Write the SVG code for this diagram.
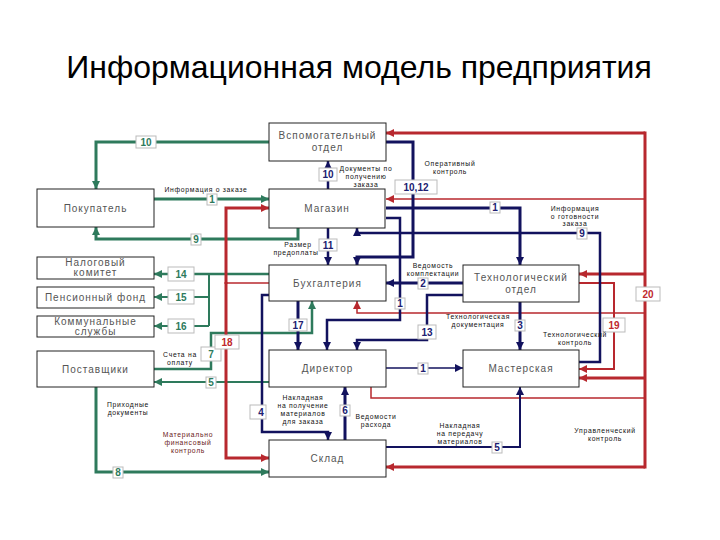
<svg xmlns="http://www.w3.org/2000/svg" width="720" height="540" viewBox="0 0 720 540">
<style>
.title{font-family:"Liberation Sans",Arial,sans-serif;font-size:32px;fill:#000}
.box rect{fill:#fff;stroke:#222;stroke-width:1}
.box text{font-family:"Liberation Sans",Arial,sans-serif;font-size:10px;letter-spacing:1px;fill:#555;text-anchor:middle}
.g{stroke:#2e7a5c;fill:none}
.r{stroke:#b8282e;fill:none}
.n{stroke:#12125e;fill:none}
.lb rect{fill:#fff;stroke:#bbb;stroke-width:1}
.lb text{font-family:"Liberation Sans",Arial,sans-serif;font-size:10px;font-weight:bold;text-anchor:middle}
.lg text{fill:#2e7a5c}.lr text{fill:#c0282d}.ln text{fill:#202070}
.t{font-family:"Liberation Sans",Arial,sans-serif;font-size:6.8px;letter-spacing:0.7px;fill:#111;text-anchor:middle}
.tr{fill:#6a1a1a}
</style>
<defs>
<marker id="ag" markerUnits="userSpaceOnUse" markerWidth="9" markerHeight="9" refX="8" refY="4" orient="auto"><path d="M0,0 L8,4 L0,8 z" fill="#2e7a5c"/></marker>
<marker id="ar" markerUnits="userSpaceOnUse" markerWidth="9" markerHeight="9" refX="8" refY="4" orient="auto"><path d="M0,0 L8,4 L0,8 z" fill="#b8282e"/></marker>
<marker id="an" markerUnits="userSpaceOnUse" markerWidth="9" markerHeight="9" refX="8" refY="4" orient="auto"><path d="M0,0 L8,4 L0,8 z" fill="#12125e"/></marker>
</defs>
<rect width="720" height="540" fill="#fff"/>
<text class="title" x="359" y="78" text-anchor="middle">Информационная модель предприятия</text>

<g id="connectors">
<!-- green -->
<polyline class="g" stroke-width="3" points="269,142 96,142 96,189" marker-end="url(#ag)"/>
<polyline class="g" stroke-width="3" points="154,199 269,199" marker-end="url(#ag)"/>
<polyline class="g" stroke-width="3" points="298,228 298,239 96,239 96,227" marker-end="url(#ag)"/>
<polyline class="g" stroke-width="2.5" points="269,274 154,274" marker-end="url(#ag)"/>
<polyline class="g" stroke-width="2" points="209,274 209,326"/>
<polyline class="g" stroke-width="2" points="209,297 154,297" marker-end="url(#ag)"/>
<polyline class="g" stroke-width="2" points="209,326 154,326" marker-end="url(#ag)"/>
<polyline class="g" stroke-width="2.5" points="154,369 211,369 211,333 312,333 312,301" marker-end="url(#ag)"/>
<polyline class="g" stroke-width="2" points="269,382 154,382" marker-end="url(#ag)"/>
<polyline class="g" stroke-width="3" points="96,387 96,472 269,472" marker-end="url(#ag)"/>
<!-- red -->
<polyline class="r" stroke-width="1.5" points="269,283 226,283"/>
<polyline class="r" stroke-width="3" points="226,284 226,208 269,208" marker-end="url(#ar)"/>
<polyline class="r" stroke-width="3" points="226,282 226,458 269,458" marker-end="url(#ar)"/>
<polyline class="r" stroke-width="3" points="645,133 386,133" marker-end="url(#ar)"/>
<polyline class="r" stroke-width="3" points="645,131.5 645,468.5"/>
<polyline class="r" stroke-width="3" points="645,467 386,467" marker-end="url(#ar)"/>
<polyline class="r" stroke-width="1.5" points="645,199 386,199" marker-end="url(#ar)"/>
<polyline class="r" stroke-width="3" points="645,274 579,274" marker-end="url(#ar)"/>
<polyline class="r" stroke-width="3" points="645,378 579,378" marker-end="url(#ar)"/>
<polyline class="r" stroke-width="1.5" points="645,313 357,313 357,301" marker-end="url(#ar)"/>
<polyline class="r" stroke-width="1.5" points="645,398 371,398 371,387"/>
<polyline class="r" stroke-width="2" points="579,283 614,283 614,369 579,369" marker-end="url(#ar)"/>
<!-- navy -->
<polyline class="n" stroke-width="3" points="386,142 413,142 413,257 357,257 357,265" marker-end="url(#an)"/>
<polyline class="n" stroke-width="2.5" points="328,189 328,161" marker-end="url(#an)"/>
<polyline class="n" stroke-width="2.5" points="328,228 328,265" marker-end="url(#an)"/>
<polyline class="n" stroke-width="3" points="386,208 520,208 520,265" marker-end="url(#an)"/>
<polyline class="n" stroke-width="2.5" points="579,362 600,362 600,233 357,233 357,228" marker-end="url(#an)"/>
<polyline class="n" stroke-width="2.5" points="386,218 400,218 400,320 327,320 327,350" marker-end="url(#an)"/>
<polyline class="n" stroke-width="3" points="463,283 386,283" marker-end="url(#an)"/>
<polyline class="n" stroke-width="2.5" points="463,295 427,295 427,340 357,340 357,350" marker-end="url(#an)"/>
<polyline class="n" stroke-width="3" points="520,302 520,350" marker-end="url(#an)"/>
<polyline class="n" stroke-width="3" points="298,301 298,350" marker-end="url(#an)"/>
<polyline class="n" stroke-width="1.5" points="386,368 463,368" marker-end="url(#an)"/>
<polyline class="n" stroke-width="2.5" points="269,295 262,295 262,432 328,432 328,440" marker-end="url(#an)"/>
<polyline class="n" stroke-width="3" points="345,440 345,387" marker-end="url(#an)"/>
<polyline class="n" stroke-width="2" points="386,447 520,447 520,387" marker-end="url(#an)"/>
</g>

<g id="labels">
<g class="lb lg"><rect x="136" y="136" width="20" height="12"/><text x="146" y="146">10</text></g>
<g class="lb lg"><rect x="207" y="194" width="10" height="11"/><text x="212" y="203">1</text></g>
<g class="lb lg"><rect x="191" y="234" width="10" height="11"/><text x="196" y="243">9</text></g>
<g class="lb lg"><rect x="168" y="267" width="26" height="14"/><text x="181" y="278">14</text></g>
<g class="lb lg"><rect x="168" y="290" width="26" height="14"/><text x="181" y="301">15</text></g>
<g class="lb lg"><rect x="168" y="319" width="26" height="14"/><text x="181" y="330">16</text></g>
<g class="lb lg"><rect x="201" y="347" width="20" height="14"/><text x="211" y="358">7</text></g>
<g class="lb lg"><rect x="206" y="377" width="10" height="11"/><text x="211" y="386">5</text></g>
<g class="lb lg"><rect x="113" y="467" width="10" height="11"/><text x="118" y="476">8</text></g>
<g class="lb lr"><rect x="215" y="335" width="24" height="14"/><text x="227" y="346">18</text></g>
<g class="lb lr"><rect x="636" y="287" width="24" height="14"/><text x="648" y="298">20</text></g>
<g class="lb lr"><rect x="603" y="318" width="22" height="14"/><text x="614" y="329">19</text></g>
<g class="lb ln"><rect x="395" y="180" width="42" height="14"/><text x="416" y="191">10,12</text></g>
<g class="lb ln"><rect x="319" y="168" width="18" height="13"/><text x="328" y="178">10</text></g>
<g class="lb ln"><rect x="319" y="239" width="18" height="12"/><text x="328" y="249">11</text></g>
<g class="lb ln"><rect x="490" y="202" width="10" height="11"/><text x="495" y="211">1</text></g>
<g class="lb ln"><rect x="577" y="228" width="10" height="11"/><text x="582" y="237">9</text></g>
<g class="lb ln"><rect x="418" y="278" width="10" height="11"/><text x="423" y="287">2</text></g>
<g class="lb ln"><rect x="395" y="298" width="10" height="11"/><text x="400" y="307">1</text></g>
<g class="lb ln"><rect x="289" y="319" width="18" height="12"/><text x="298" y="329">17</text></g>
<g class="lb ln"><rect x="418" y="325" width="18" height="14"/><text x="427" y="336">13</text></g>
<g class="lb ln"><rect x="515" y="320" width="10" height="11"/><text x="520" y="329">3</text></g>
<g class="lb ln"><rect x="418" y="363" width="10" height="11"/><text x="423" y="372">1</text></g>
<g class="lb ln"><rect x="250" y="405" width="16" height="14"/><text x="261" y="416">4</text></g>
<g class="lb ln"><rect x="340" y="405" width="10" height="11"/><text x="345" y="414">6</text></g>
<g class="lb ln"><rect x="492" y="442" width="10" height="11"/><text x="497" y="451">5</text></g>
</g>

<g id="texts">
<text class="t" x="206" y="192">Информация о заказе</text>
<text class="t" x="366" y="171">Документы по</text>
<text class="t" x="366" y="179">получению</text>
<text class="t" x="366" y="187">заказа</text>
<text class="t" x="450" y="166">Оперативный</text>
<text class="t" x="450" y="174">контроль</text>
<text class="t" x="575" y="211">Информация</text>
<text class="t" x="575" y="218.5">о готовности</text>
<text class="t" x="575" y="226">заказа</text>
<text class="t" x="298" y="247">Размер</text>
<text class="t" x="296" y="255">предоплаты</text>
<text class="t" x="433" y="268">Ведомость</text>
<text class="t" x="433" y="276">комплектации</text>
<text class="t" x="478" y="319">Технологическая</text>
<text class="t" x="478" y="327">документация</text>
<text class="t" x="575" y="337">Технологический</text>
<text class="t" x="575" y="345">контроль</text>
<text class="t" x="180" y="357">Счета на</text>
<text class="t" x="180" y="365">оплату</text>
<text class="t" x="128" y="407">Приходные</text>
<text class="t" x="128" y="415">документы</text>
<text class="t tr" x="188" y="437">Материально</text>
<text class="t tr" x="188" y="445">финансовый</text>
<text class="t tr" x="188" y="453">контроль</text>
<text class="t" x="303" y="400">Накладная</text>
<text class="t" x="303" y="408">на получение</text>
<text class="t" x="303" y="416">материалов</text>
<text class="t" x="303" y="424">для заказа</text>
<text class="t" x="376" y="419">Ведомости</text>
<text class="t" x="376" y="427">расхода</text>
<text class="t" x="460" y="428">Накладная</text>
<text class="t" x="460" y="436">на передачу</text>
<text class="t" x="460" y="444">материалов</text>
<text class="t" x="605" y="433">Управленческий</text>
<text class="t" x="605" y="441">контроль</text>
</g>

<g id="n-vspom" class="box"><rect x="269" y="123" width="117" height="38"/><text x="327.5" y="139">Вспомогательный</text><text x="327.5" y="151">отдел</text></g>
<g id="n-magazin" class="box"><rect x="269" y="189" width="116" height="39"/><text x="327" y="212">Магазин</text></g>
<g id="n-pokupatel" class="box"><rect x="37" y="189" width="117" height="38"/><text x="95.5" y="212">Покупатель</text></g>
<g id="n-buh" class="box"><rect x="269" y="265" width="117" height="36"/><text x="327.5" y="287">Бухгалтерия</text></g>
<g id="n-tech" class="box"><rect x="463" y="265" width="116" height="37"/><text x="521" y="281">Технологический</text><text x="521" y="293">отдел</text></g>
<g id="n-dir" class="box"><rect x="269" y="350" width="117" height="37"/><text x="327.5" y="372">Директор</text></g>
<g id="n-master" class="box"><rect x="463" y="350" width="116" height="37"/><text x="521" y="372">Мастерская</text></g>
<g id="n-sklad" class="box"><rect x="269" y="440" width="117" height="37"/><text x="327.5" y="462">Склад</text></g>
<g id="n-nalog" class="box"><rect x="37" y="257" width="117" height="22"/><text x="95.5" y="266">Налоговый</text><text x="95.5" y="276">комитет</text></g>
<g id="n-pens" class="box"><rect x="37" y="287" width="117" height="21"/><text x="95.5" y="301">Пенсионный фонд</text></g>
<g id="n-komm" class="box"><rect x="37" y="316" width="117" height="21"/><text x="95.5" y="325">Коммунальные</text><text x="95.5" y="335">службы</text></g>
<g id="n-post" class="box"><rect x="37" y="351" width="117" height="36"/><text x="95.5" y="373">Поставщики</text></g>
</svg>
